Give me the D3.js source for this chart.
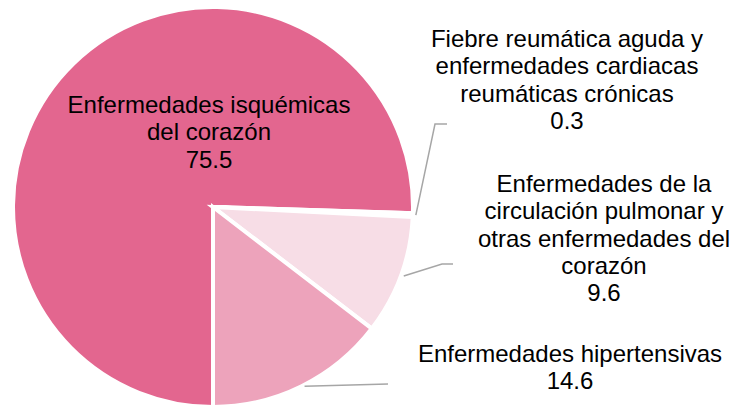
<!DOCTYPE html>
<html><head><meta charset="utf-8">
<script src="https://cdn.jsdelivr.net/npm/d3@7"></script>
<style>html,body{margin:0;padding:0;background:#fff;}svg{display:block;}</style>
</head><body>
<svg id="chart" width="731" height="406"></svg>
<script>
const categories = [
  "Enfermedades isquémicas del corazón",
  "Fiebre reumática aguda y enfermedades cardiacas reumáticas crónicas",
  "Enfermedades de la circulación pulmonar y otras enfermedades del corazón",
  "Enfermedades hipertensivas"
];
const values = [75.5, 0.3, 9.6, 14.6];
const colors = ["#E3668F", "#E98AA8", "#F7DDE6", "#EDA3BB"];
const labelLines = [
  ["Enfermedades isquémicas", "del corazón", "75.5"],
  ["Fiebre reumática aguda y", "enfermedades cardiacas", "reumáticas crónicas", "0.3"],
  ["Enfermedades de la", "circulación pulmonar y", "otras enfermedades del", "corazón", "9.6"],
  ["Enfermedades hipertensivas", "14.6"]
];
// layout (not data)
const labelPos = [[209, 113], [567, 47], [604, 192], [570, 362]];
const elbows = [[435, 124, 447], [442, 264, 453], [388, 384, 388]];

const svg = d3.select("#chart");
const cx = 213, cy = 207, r = 200;
const g = svg.append("g").attr("transform", `translate(${cx},${cy})`);

const pie = d3.pie().sort(null).value(d => d).startAngle(Math.PI).endAngle(3 * Math.PI);
const arcs = pie(values);
const arc = d3.arc().innerRadius(0).outerRadius(r);

g.selectAll("path.slice").data(arcs).enter().append("path")
  .attr("class", "slice")
  .attr("d", arc)
  .attr("fill", (d, i) => colors[i])
  .attr("stroke", "#fff")
  .attr("stroke-width", 4)
  .attr("stroke-linejoin", "miter");

// leader lines for slices 1..3
arcs.forEach((d, i) => {
  if (i === 0) return;
  const a = (d.startAngle + d.endAngle) / 2;
  const sx = cx + r * Math.sin(a) + 3, sy = cy - r * Math.cos(a);
  const e = elbows[i - 1];
  svg.append("polyline")
    .attr("points", `${sx},${sy} ${e[0]},${e[1]} ${e[2]},${e[1]}`)
    .attr("fill", "none")
    .attr("stroke", "#A6A6A6")
    .attr("stroke-width", 1.5);
});

labelLines.forEach((lines, i) => {
  const t = svg.append("text")
    .attr("text-anchor", "middle")
    .attr("font-family", "Liberation Sans, Arial, sans-serif")
    .attr("font-size", 24)
    .attr("fill", "#000");
  lines.forEach((ln, j) => {
    t.append("tspan").attr("x", labelPos[i][0]).attr("y", labelPos[i][1] + j * 27.3).text(ln);
  });
});
</script>
</body></html>
